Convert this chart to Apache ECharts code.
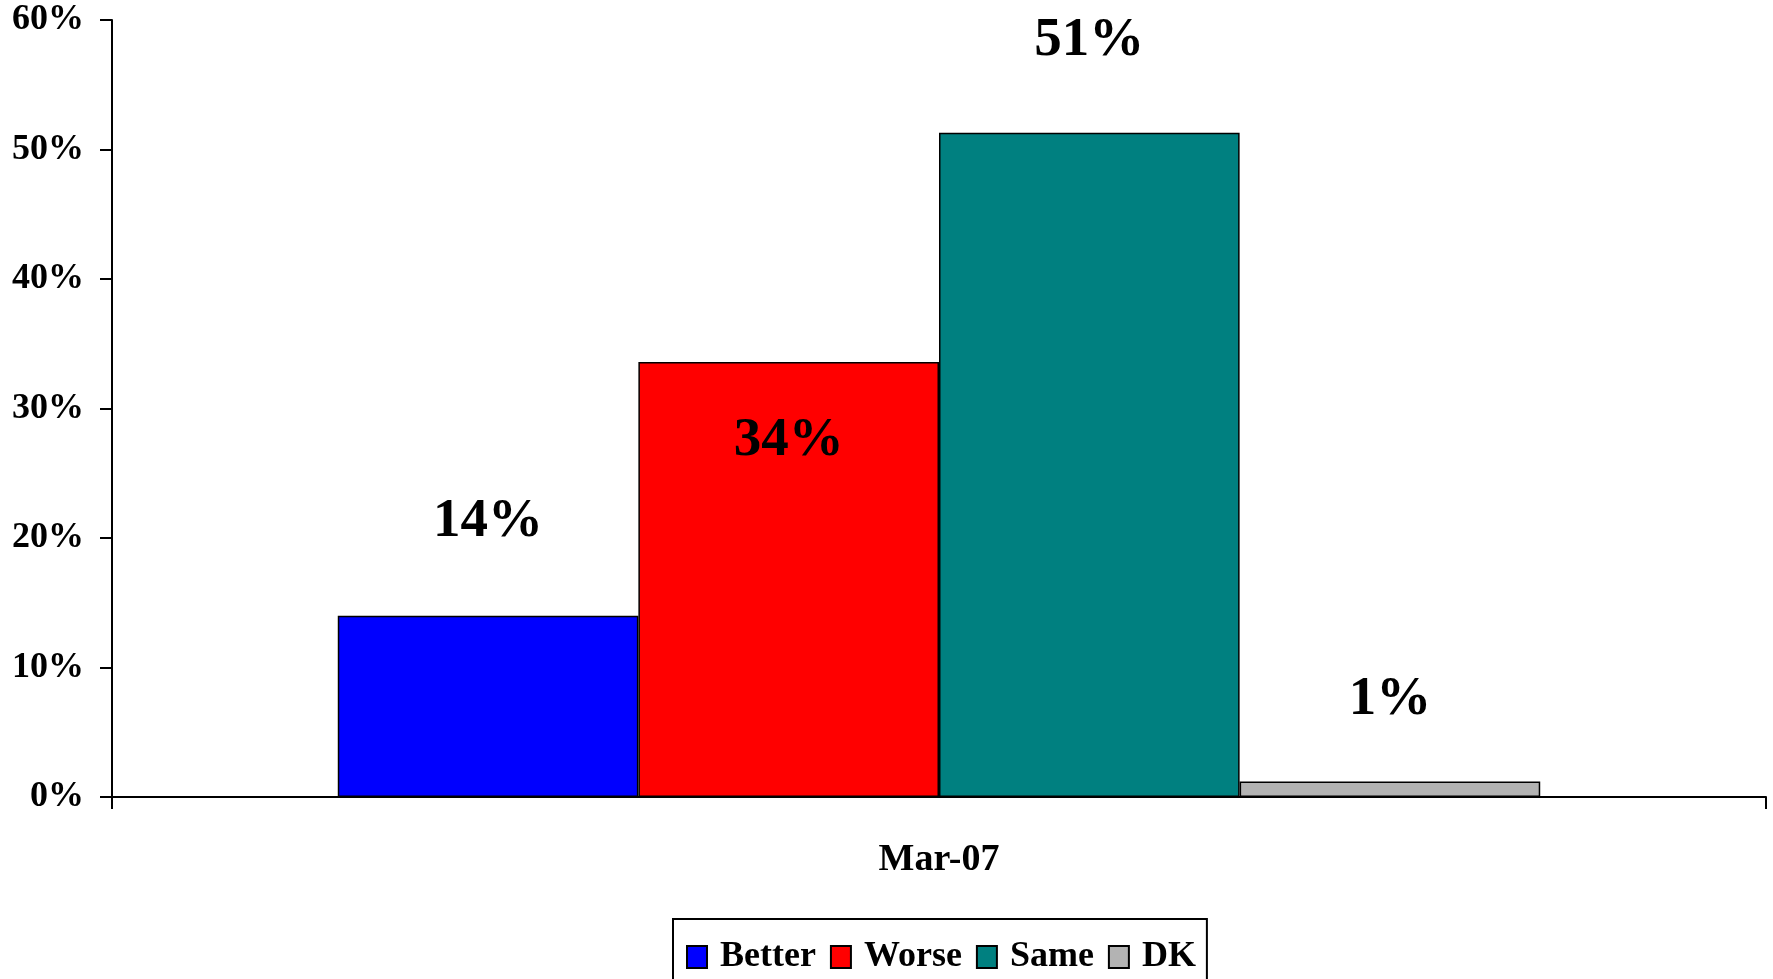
<!DOCTYPE html>
<html>
<head>
<meta charset="utf-8">
<script src="https://cdn.jsdelivr.net/npm/echarts@6/dist/echarts.min.js"></script>
<style>
  html, body { margin: 0; padding: 0; background: #fff; }
  #box { width: 1773px; height: 979px; }
</style>
</head>
<body>
<div id="box"></div>
<script>
let categories = ["Mar-07"];
let seriesNames = ["Better", "Worse", "Same", "DK"];
let betterValues = [14];
let worseValues = [33.6];
let sameValues = [51.3];
let dkValues = [1.2];
let yTicks = [0, 10, 20, 30, 40, 50, 60];

let font = '"Liberation Serif", "Times New Roman", serif';
let colors = ["#0000ff", "#ff0000", "#008080", "#b3b3b3"];
// label spot relative to bar top (Excel put them by hand)
let labelPos = [["50%", -94], ["50%", 79], ["50%", -92], ["50%", -82]];

let chart = echarts.init(document.getElementById("box"), null, { renderer: "canvas" });

function makeSeries(name, values, i) {
  return {
    type: "bar",
    name: name,
    data: values,
    barGap: "0%",
    barCategoryGap: "27.3%",
    itemStyle: { color: colors[i], borderColor: "#000", borderWidth: 1.5 },
    label: {
      show: true,
      position: labelPos[i],
      align: "center",
      verticalAlign: "middle",
      formatter: p => Math.round(p.value) + "%",
      fontFamily: font,
      fontWeight: "bold",
      fontSize: 55,
      color: "#000"
    },
    emphasis: { disabled: true }
  };
}

let option = {
  animation: false,
  backgroundColor: "#fff",
  grid: { left: 112, right: 7, top: 20, bottom: 182 },
  legend: {
    data: seriesNames,
    icon: "rect",
    left: 673,
    top: 919,
    orient: "horizontal",
    padding: [20, 11, 60, 13],
    itemWidth: 20,
    itemHeight: 22,
    itemGap: 14,
    borderColor: "#000",
    borderWidth: 2,
    textStyle: {
      fontFamily: font,
      fontWeight: "bold",
      fontSize: 36,
      color: "#000",
      padding: [0, 0, 0, 8]
    }
  },
  xAxis: {
    type: "category",
    data: categories,
    axisLine: { lineStyle: { color: "#000", width: 2 } },
    axisTick: { show: true, inside: false, length: 12, lineStyle: { color: "#000", width: 2 } },
    axisLabel: {
      margin: 44,
      fontFamily: font,
      fontWeight: "bold",
      fontSize: 38,
      color: "#000"
    },
    splitLine: { show: false }
  },
  yAxis: {
    type: "value",
    min: yTicks[0],
    max: yTicks[yTicks.length - 1],
    interval: yTicks[1] - yTicks[0],
    axisLine: { show: true, lineStyle: { color: "#000", width: 2 } },
    axisTick: { show: true, inside: false, length: 12, lineStyle: { color: "#000", width: 2 } },
    axisLabel: {
      margin: 28,
      formatter: "{value}%",
      fontFamily: font,
      fontWeight: "bold",
      fontSize: 36,
      color: "#000"
    },
    splitLine: { show: false }
  },
  series: [
    makeSeries(seriesNames[0], betterValues, 0),
    makeSeries(seriesNames[1], worseValues, 1),
    makeSeries(seriesNames[2], sameValues, 2),
    makeSeries(seriesNames[3], dkValues, 3)
  ]
};

chart.setOption(option);
</script>
</body>
</html>
